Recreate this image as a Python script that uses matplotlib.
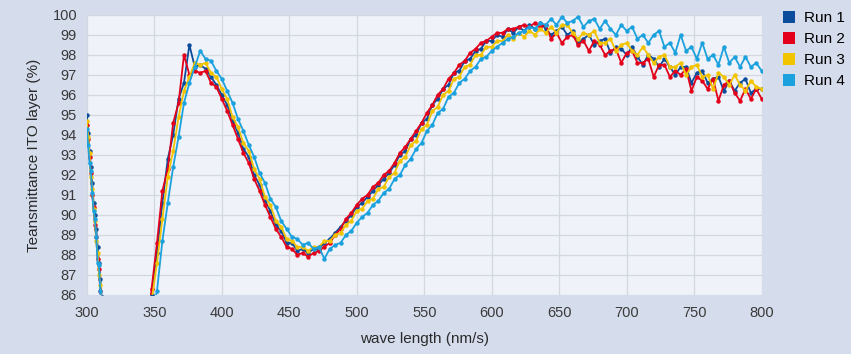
import matplotlib
matplotlib.use("Agg")
import matplotlib.pyplot as plt
from matplotlib.lines import Line2D

plt.rcParams['font.family'] = ['Liberation Sans', 'DejaVu Sans']

# wavelength grid (nm): short edge at 300-311, then the main sweep
wave = list(range(300, 312)) + list(range(344, 801, 4))

run1 = [95.0, 94.1, 93.2, 92.4, 91.6, 90.6, 90.0, 89.3, 88.4, 87.6, 86.8, 85.9,
        83.4,
        86.0, 88.1, 90.6, 92.8, 94.0, 95.8, 96.6, 98.5, 97.4, 97.5, 97.3, 96.9,
        96.5, 96.0, 95.5, 94.7, 94.1, 93.3, 92.9, 92.0, 91.5, 90.7, 90.2, 89.5,
        89.2, 88.6, 88.6, 88.2, 88.3, 88.1, 88.3, 88.3, 88.6, 88.8, 89.1, 89.4,
        89.7, 90.0, 90.4, 90.6, 90.9, 91.2, 91.5, 91.8, 92.1, 92.5, 93.0, 93.2,
        93.8, 94.0, 94.6, 94.8, 95.5, 95.8, 96.3, 96.5, 97.1, 97.2, 97.7, 97.8,
        98.2, 98.3, 98.7, 98.7, 99.0, 98.9, 99.3, 99.1, 99.4, 99.2, 99.5, 99.3,
        99.6, 99.3,
        99.0, 99.2, 99.4, 99.0, 99.2, 98.6, 98.8, 99.0, 98.5, 98.7,
        98.8, 98.1, 98.4, 98.3, 98.0, 98.4, 97.9, 97.5, 98.0, 97.8,
        97.4, 97.8, 97.4, 97.0, 97.4, 97.4, 96.6, 97.1, 97.2, 96.6,
        96.8, 96.9, 96.2, 96.7, 96.2, 96.6, 96.8, 96.1, 96.3, 96.3]

run2 = [94.5, 93.8, 92.9, 92.1, 91.0, 90.4, 89.5, 88.9, 87.8, 87.3, 86.2, 85.5,
        83.6,
        86.3, 88.6, 91.2, 92.3, 94.6, 95.6, 98.0, 97.0, 97.2, 97.1, 97.2, 96.6,
        96.4, 95.8, 95.2, 94.5, 93.8, 93.1, 92.6, 91.8, 91.2, 90.5, 89.9, 89.3,
        88.9, 88.4, 88.3, 88.0, 88.1, 87.9, 88.1, 88.2, 88.4, 88.6, 89.0, 89.3,
        89.8, 90.1, 90.5, 90.8, 91.0, 91.4, 91.6, 92.0, 92.2, 92.6, 93.1, 93.4,
        93.8, 94.2, 94.6, 95.1, 95.5, 96.0, 96.3, 96.8, 97.1, 97.5, 97.7, 98.1,
        98.3, 98.6, 98.7, 98.9, 99.1, 99.1, 99.3, 99.3, 99.4, 99.5, 99.4, 99.6,
        99.4, 99.5,
        98.8, 99.1, 98.6, 98.9, 99.0, 98.5, 98.7, 98.2, 98.7, 98.5,
        98.0, 98.2, 98.3, 97.6, 98.1, 98.2, 97.6, 97.6, 97.8, 96.9,
        97.5, 97.5, 96.9, 97.2, 97.0, 97.3, 96.2, 96.9, 96.7, 96.3,
        96.8, 95.7, 96.5, 96.7, 96.1, 95.7, 96.3, 95.8, 96.3, 95.8]

run3 = [94.7, 93.9, 93.1, 91.9, 91.3, 90.3, 89.7, 88.7, 88.1, 87.0, 86.5, 85.4,
        83.2,
        85.7, 87.6, 89.8, 91.9, 93.2, 94.9, 96.2, 96.9, 97.6, 97.5, 97.6, 97.1,
        96.9, 96.3, 95.8, 94.9, 94.4, 93.6, 93.2, 92.3, 91.8, 90.9, 90.5, 89.7,
        89.4, 88.8, 88.7, 88.4, 88.4, 88.2, 88.4, 88.4, 88.7, 88.7, 89.0, 89.1,
        89.5, 89.7, 90.2, 90.3, 90.7, 90.8, 91.3, 91.4, 91.9, 92.1, 92.7, 92.9,
        93.5, 93.7, 94.3, 94.5, 95.2, 95.4, 96.0, 96.2, 96.8, 96.9, 97.4, 97.5,
        98.0, 98.0, 98.4, 98.4, 98.7, 98.7, 99.0, 98.8, 99.1, 98.9, 99.2, 99.0,
        99.3, 99.1,
        99.4, 99.1, 99.5, 99.5, 99.1, 98.8, 99.1, 99.0, 99.2, 98.6,
        98.6, 98.8, 98.2, 98.5, 98.6, 98.2, 98.0, 98.4, 98.0, 97.6,
        97.9, 98.0, 97.4, 97.4, 97.6, 97.0, 97.4, 97.5, 96.9, 97.0,
        96.3, 97.1, 96.9, 96.5, 97.0, 96.5, 96.2, 96.7, 96.4, 96.3]

run4 = [94.3, 93.5, 92.6, 92.2, 91.1, 90.2, 89.8, 88.9, 87.6, 87.5, 86.2, 85.6,
        83.0,
        84.9, 86.2, 88.7, 90.6, 92.4, 93.9, 95.6, 96.6, 97.4, 98.2, 97.8, 97.7,
        97.2, 96.8, 96.2, 95.6, 94.8, 94.2, 93.5, 92.9, 92.1, 91.6, 90.8, 90.4,
        89.7, 89.3, 88.9, 88.8, 88.5, 88.6, 88.3, 88.4, 87.8, 88.3, 88.5, 88.6,
        89.0, 89.2, 89.6, 89.9, 90.1, 90.5, 90.7, 91.1, 91.3, 91.8, 92.0, 92.5,
        92.8, 93.3, 93.6, 94.2, 94.5, 95.1, 95.3, 95.9, 96.1, 96.6, 96.8, 97.2,
        97.4, 97.8, 97.9, 98.2, 98.4, 98.6, 98.8, 98.9, 99.1, 99.2, 99.4, 99.3,
        99.6, 99.5,
        99.8, 99.5, 99.9, 99.6, 99.7, 99.9, 99.4, 99.7, 99.8, 99.3,
        99.7, 99.3, 99.0, 99.5, 99.2, 99.4, 98.8, 99.0, 98.6, 99.0,
        99.2, 98.4, 98.6, 98.1, 99.0, 98.2, 98.4, 97.8, 98.6, 97.8,
        98.0, 97.5, 98.4, 97.6, 97.9, 97.4, 97.9, 97.4, 97.6, 97.2]

RUNS = {"Run 1": (run1, "#0b4d9c"), "Run 2": (run2, "#e2001a"),
        "Run 3": (run3, "#f2c400"), "Run 4": (run4, "#1ba1dd")}

fig = plt.figure(figsize=(8.51, 3.54), dpi=100, facecolor="#d5dcec")
ax = fig.add_axes([0.102, 0.167, 0.793, 0.791])
ax.set_facecolor("#eff2f8")

for name, (vals, col) in RUNS.items():
    ax.plot(wave, vals, color=col, lw=1.3, marker="o", ms=3.2, mew=0,
            label=name)

ax.set_xlim(300, 800)
ax.set_ylim(86, 100)
ax.set_xticks(range(300, 801, 50))
ax.set_yticks(range(86, 101))
ax.grid(True, color="#d3d7e0", lw=0.9)
ax.set_axisbelow(True)
for s in ax.spines.values():
    s.set_visible(False)
ax.tick_params(length=0, labelsize=10.5, colors="#3a3a3a", pad=8)
ax.tick_params(axis="y", pad=7)
ax.set_xlabel("wave length (nm/s)", fontsize=11, color="#2a2a2a", labelpad=9)
ax.set_ylabel("Teansmittance ITO layer (%)", fontsize=11, color="#2a2a2a",
              labelpad=8)

handles = [Line2D([], [], ls="none", marker="s", ms=8, mew=0, color=c)
           for _, c in RUNS.values()]
fig.legend(handles, list(RUNS.keys()), loc="upper left",
           bbox_to_anchor=(0.913, 0.985), frameon=False, fontsize=11,
           handlelength=0.8, handletextpad=0.6, labelspacing=0.45,
           borderaxespad=0)

fig.savefig("out.png", dpi=100, facecolor=fig.get_facecolor())
